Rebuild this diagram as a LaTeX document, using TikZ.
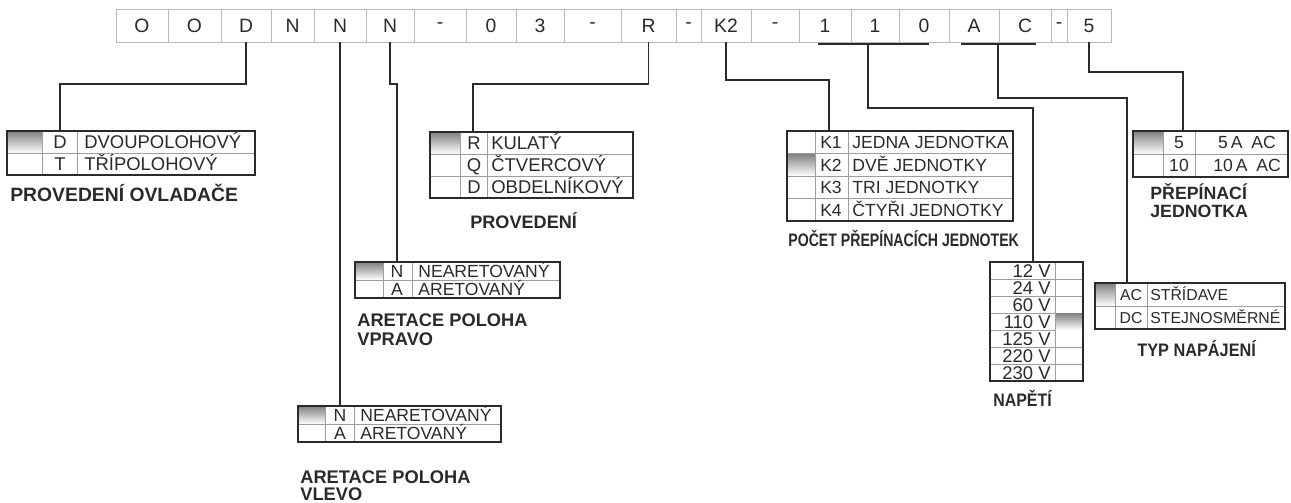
\documentclass[tikz,border=0pt]{standalone}
\usepackage{graphicx}
\usepackage{fontspec}
\setmainfont{Liberation Sans}
\usetikzlibrary{positioning}

\definecolor{ink}{HTML}{2A2A2A}
\definecolor{shade}{HTML}{C6C6C6}
\definecolor{rule}{HTML}{9E9E9E}
\definecolor{cellrule}{HTML}{B8B8B8}

\tikzset{
  codecell/.style={draw=cellrule, line width=0.5pt, minimum height=0.66cm, inner sep=0pt,
    text=ink, font=\fontsize{11}{13}\selectfont},
  frame/.style={draw=ink, line width=1.1pt},
  grid/.style={draw=rule, line width=0.45pt},
  conn/.style={draw=ink, line width=0.8pt},
  entry/.style={inner sep=0pt, text=ink, text height={0.716*#1pt}, text depth=0pt,
    font=\fontsize{#1}{#1}\selectfont},
  entry/.default=10,
  volt/.style={entry=10.5, anchor=east},
  caption/.style={inner sep=0pt, anchor=west, text=ink, text height={0.716*#1pt}, text depth=0pt,
    font=\bfseries\fontsize{#1}{#1}\selectfont},
  caption/.default=10.3,
}

\begin{document}
\begin{tikzpicture}[x=0.02cm, y={(0cm,-0.02cm)}]
  \useasboundingbox (0,0) rectangle (1291,503);

  % type code
  \foreach \xa/\xb/\txt/\nm in {116/168/O/o1, 168/221/O/o2, 221/271/D/dd, 271/314/N/n1,
      314/366/N/n2, 366/414/N/n3, 414/466/-/h1, 466/516/0/z0, 516/564/3/z3, 564/621/-/h2,
      621/676/R/rr, 676/701/-/h3, 701/751/K2/k2, 751/799/-/h4, 799/851/1/v1, 851/899/1/v2,
      899/949/0/v0, 949/999/A/aa, 999/1051/C/cc, 1051/1067/-/h5, 1067/1111/5/five}
    \node[codecell, minimum width={(\xb-\xa)*0.02cm}] (\nm) at ({(\xa+\xb)/2},25.5) {\txt};

  % brackets under 110 and AC
  \draw[conn] (818,44) -- (929,44);
  \draw[conn] (961,44) -- (1036,44);
  \coordinate (tap-v) at (868,44);
  \coordinate (tap-a) at (998,44);

  % levels of the connectors
  \coordinate (lvl-d) at (0,84);
  \coordinate (lvl-k) at (0,80);
  \coordinate (lvl-v) at (0,108);
  \coordinate (lvl-a) at (0,98);
  \coordinate (lvl-5) at (0,72);

  % PROVEDENI OVLADACE
  \fill[shade] (7,131) rectangle (42,153);
  \draw[grid] (7,153) -- (255,153) (42,131) -- (42,175) (77,131) -- (77,175);
  \draw[frame] (7,131) rectangle (255,175);
  \foreach \c/\t [count=\i] in {D/DVOUPOLOHOVÝ, T/TŘÍPOLOHOVÝ} {
    \node[entry=10.5] (ovl-c\i) at (60,{120+22*\i}) {\c};
    \node[entry=10.5, anchor=west] (ovl-t\i) at (84,{120+22*\i}) {\t};
  }
  \node[caption=11] (ovl-cap) at (10,195) {PROVEDENÍ OVLADAČE};
  \coordinate (ovl-in) at (60,131);

  % PROVEDENI
  \fill[shade] (430,132) rectangle (460,154);
  \draw[grid] (430,154) -- (633,154) (430,176) -- (633,176) (460,132) -- (460,198) (487,132) -- (487,198);
  \draw[frame] (430,132) rectangle (633,198);
  \foreach \c/\t [count=\i] in {R/KULATÝ, Q/ČTVERCOVÝ, D/OBDELNÍKOVÝ} {
    \node[entry=10.5] (prv-c\i) at (474,{121+22*\i}) {\c};
    \node[entry=10.5, anchor=west] (prv-t\i) at (491,{121+22*\i}) {\t};
  }
  \node[caption] (prv-cap) at (470,222) {PROVEDENÍ};
  \coordinate (prv-in) at (473,132);

  % POCET PREPINACICH JEDNOTEK
  \fill[shade] (787,153.5) rectangle (815,176);
  \draw[grid] (787,153.5) -- (1013,153.5) (787,176) -- (1013,176) (787,198.5) -- (1013,198.5)
    (815,131) -- (815,221) (848,131) -- (848,221);
  \draw[frame] (787,131) rectangle (1013,221);
  \foreach \c/\t [count=\i] in {K1/JEDNA JEDNOTKA, K2/DVĚ JEDNOTKY, K3/TRI JEDNOTKY, K4/ČTYŘI JEDNOTKY} {
    \node[entry] (poc-c\i) at (831,{119.75+22.5*\i}) {\c};
    \node[entry, anchor=west] (poc-t\i) at (852,{119.75+22.5*\i}) {\t};
  }
  \node[caption] (poc-cap) at (788,240) {\scalebox{0.78}[1]{POČET PŘEPÍNACÍCH JEDNOTEK}};
  \coordinate (poc-in) at (829,131);

  % PREPINACI JEDNOTKA
  \fill[shade] (1133,131) rectangle (1163,154);
  \draw[grid] (1133,154) -- (1288,154) (1163,131) -- (1163,177) (1195,131) -- (1195,177);
  \draw[frame] (1133,131) rectangle (1288,177);
  \foreach \c/\t [count=\i] in {5/5\,A\enspace AC, 10/10\,A\enspace AC} {
    \node[entry] (jed-c\i) at (1179,{119.5+23*\i}) {\c};
    \node[entry] (jed-t\i) at (1247,{119.5+23*\i}) {\t};
  }
  \node[caption=10.1] (jed-cap1) at (1150,193) {PŘEPÍNACÍ};
  \node[caption=10.1] (jed-cap2) at (1150,211) {JEDNOTKA};
  \coordinate (jed-in) at (1183,131);

  % ARETACE POLOHA VPRAVO
  \fill[shade] (355,262) rectangle (383,280);
  \draw[grid] (355,280) -- (560,280) (383,262) -- (383,298) (412,262) -- (412,298);
  \draw[frame] (355,262) rectangle (560,298);
  \foreach \c/\t [count=\i] in {N/NEARETOVANÝ, A/ARETOVANÝ} {
    \node[entry] (vpr-c\i) at (397,{253+18*\i}) {\c};
    \node[entry, anchor=west] (vpr-t\i) at (418,{253+18*\i}) {\t};
  }
  \node[caption=10.4] (vpr-cap1) at (357,320) {ARETACE POLOHA};
  \node[caption=10.4] (vpr-cap2) at (357,339) {VPRAVO};
  \coordinate (vpr-in) at (397,262);

  % ARETACE POLOHA VLEVO
  \fill[shade] (298,406) rectangle (325,424);
  \draw[grid] (298,424) -- (501,424) (325,406) -- (325,442) (354,406) -- (354,442);
  \draw[frame] (298,406) rectangle (501,442);
  \foreach \c/\t [count=\i] in {N/NEARETOVANÝ, A/ARETOVANÝ} {
    \node[entry] (vle-c\i) at (340,{397+18*\i}) {\c};
    \node[entry, anchor=west] (vle-t\i) at (360,{397+18*\i}) {\t};
  }
  \node[caption=10.4] (vle-cap1) at (300,477) {ARETACE POLOHA};
  \node[caption=10.4] (vle-cap2) at (300,494) {VLEVO};
  \coordinate (vle-in) at (340,406);

  % NAPETI
  \foreach \i in {1,...,6}
    \draw[grid] (990,{262+17*\i}) -- (1083,{262+17*\i});
  \fill[shade] (1055,313) rectangle (1083,330);
  \draw[grid] (1055,262) -- (1055,381);
  \draw[frame] (990,262) rectangle (1083,381);
  \foreach \v [count=\i] in {12,24,60,110,125,220,230}
    \node[volt] (nap-\i) at (1051,{253.5+17*\i}) {\v\ V};
  \node[caption] (nap-cap) at (993,400) {\scalebox{0.88}[1]{NAPĚTÍ}};
  \coordinate (nap-in) at (1033,262);

  % TYP NAPAJENI
  \fill[shade] (1095,283) rectangle (1115,306);
  \draw[grid] (1095,306) -- (1285,306) (1115,283) -- (1115,329) (1147,283) -- (1147,329);
  \draw[frame] (1095,283) rectangle (1285,329);
  \foreach \c/\t [count=\i] in {AC/STŘÍDAVE, DC/STEJNOSMĚRNÉ} {
    \node[entry=9] (typ-c\i) at (1131,{271.5+23*\i}) {\c};
    \node[entry=9, anchor=west] (typ-t\i) at (1150,{271.5+23*\i}) {\t};
  }
  \node[caption] (typ-cap) at (1137,350) {\scalebox{0.9}[1]{TYP NAPÁJENÍ}};
  \coordinate (typ-in) at (1127,283);

  % connectors
  \draw[conn] (dd.south) -- (dd.south |- lvl-d) -- (ovl-in |- lvl-d) -- (ovl-in);
  \draw[conn] (n2.south) -- (n2.south |- vle-in);
  \draw[conn] (n3.south) -- (n3.south |- lvl-d) -- (vpr-in |- lvl-d) -- (vpr-in);
  \draw[conn] (rr.south) -- (rr.south |- lvl-d) -- (prv-in |- lvl-d) -- (prv-in);
  \draw[conn] (k2.south) -- (k2.south |- lvl-k) -- (poc-in |- lvl-k) -- (poc-in);
  \draw[conn] (tap-v) -- (tap-v |- lvl-v) -- (nap-in |- lvl-v) -- (nap-in);
  \draw[conn] (tap-a) -- (tap-a |- lvl-a) -- (typ-in |- lvl-a) -- (typ-in);
  \draw[conn] (five.south) -- (five.south |- lvl-5) -- (jed-in |- lvl-5) -- (jed-in);
\end{tikzpicture}
\end{document}
